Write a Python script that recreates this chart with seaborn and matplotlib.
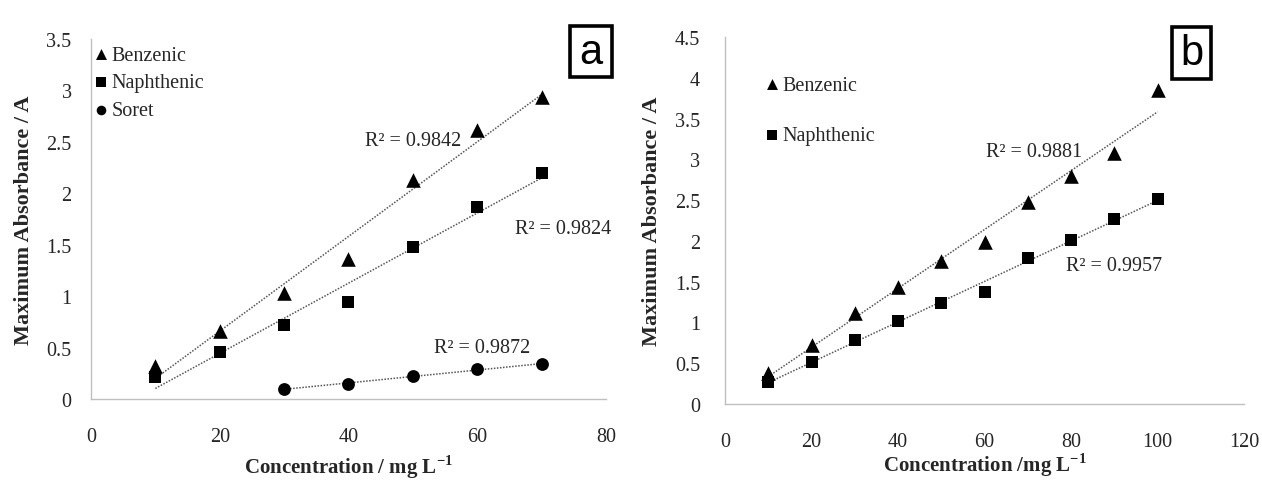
import numpy as np
import pandas as pd
import matplotlib
matplotlib.use("Agg")
import matplotlib.pyplot as plt
from matplotlib.patches import Rectangle
import seaborn as sns

# ---- data: panel (a) ----
conc_a = [10, 20, 30, 40, 50, 60, 70]
benzenic_a = [0.32, 0.66, 1.03, 1.36, 2.13, 2.62, 2.94]
naphthenic_a = [0.21, 0.46, 0.72, 0.94, 1.48, 1.87, 2.20]
conc_soret = [30, 40, 50, 60, 70]
soret_a = [0.10, 0.145, 0.22, 0.29, 0.34]
r2_a = ["0.9842", "0.9824", "0.9872"]

# ---- data: panel (b) ----
conc_b = [10, 20, 30, 40, 50, 60, 70, 80, 90, 100]
benzenic_b = [0.38, 0.72, 1.11, 1.44, 1.75, 1.99, 2.48, 2.79, 3.08, 3.85]
naphthenic_b = [0.27, 0.52, 0.79, 1.02, 1.24, 1.37, 1.79, 2.01, 2.27, 2.51]
r2_b = ["0.9881", "0.9957"]

xticks_a = [0, 20, 40, 60, 80]
yticks_a = [0, 0.5, 1, 1.5, 2, 2.5, 3, 3.5]
xticks_b = [0, 20, 40, 60, 80, 100, 120]
yticks_b = [0, 0.5, 1, 1.5, 2, 2.5, 3, 3.5, 4, 4.5]

sns.set_theme(style="white")
plt.rcParams["font.family"] = ["Liberation Serif", "DejaVu Serif"]

SERIF = "Liberation Serif"
MARKERS = {"Benzenic": "^", "Naphthenic": "s", "Soret": "o"}
SIZES = {"Benzenic": 110, "Naphthenic": 80, "Soret": 85}
SPINE = "#bfbfbf"
TXT = "#262626"
FS = 14.5

df_a = pd.concat([
    pd.DataFrame({"conc": conc_a, "abs": benzenic_a, "series": "Benzenic"}),
    pd.DataFrame({"conc": conc_a, "abs": naphthenic_a, "series": "Naphthenic"}),
    pd.DataFrame({"conc": conc_soret, "abs": soret_a, "series": "Soret"}),
], ignore_index=True)
df_b = pd.concat([
    pd.DataFrame({"conc": conc_b, "abs": benzenic_b, "series": "Benzenic"}),
    pd.DataFrame({"conc": conc_b, "abs": naphthenic_b, "series": "Naphthenic"}),
], ignore_index=True)

fig = plt.figure(figsize=(12.62, 4.81), dpi=100)
ax_a = fig.add_axes([0.0721, 0.1684, 0.408, 0.7484])
ax_b = fig.add_axes([0.5745, 0.158, 0.4113, 0.763])


def draw_panel(ax, df, xlim, ylim, xticks, yticks, ticks_visible):
    # dotted linear trendlines
    for name, sub in df.groupby("series", sort=False):
        sns.regplot(data=sub, x="conc", y="abs", ax=ax, scatter=False, ci=None,
                    truncate=True,
                    line_kws=dict(color="#555555", lw=1.1, ls=(0, (1, 1))))
    # markers
    for name, sub in df.groupby("series", sort=False):
        sns.scatterplot(data=sub, x="conc", y="abs", ax=ax, marker=MARKERS[name],
                        s=SIZES[name], color="black", edgecolor="black",
                        linewidth=0, label=name, zorder=3)
    ax.set_xlim(*xlim)
    ax.set_ylim(*ylim)
    ax.set_xticks(xticks)
    ax.set_yticks(yticks)
    ax.set_xticklabels([f"{t:g}" for t in xticks])
    ax.set_yticklabels([f"{t:g}" for t in yticks])
    for side in ("top", "right"):
        ax.spines[side].set_visible(False)
    for side in ("left", "bottom"):
        ax.spines[side].set_color(SPINE)
        ax.spines[side].set_linewidth(1.0)
    ax.tick_params(axis="both", which="major", labelsize=FS, colors=SPINE,
                   labelcolor=TXT, direction="out",
                   length=5 if ticks_visible else 0, width=1.0)
    ax.tick_params(axis="x", pad=20 if not ticks_visible else 15)
    ax.tick_params(axis="y", pad=14 if not ticks_visible else 13)
    for lab in ax.get_xticklabels() + ax.get_yticklabels():
        lab.set_fontfamily(SERIF)


draw_panel(ax_a, df_a, (0, 80), (0, 3.5), xticks_a, yticks_a, False)
draw_panel(ax_b, df_b, (0, 120), (0, 4.5), xticks_b, yticks_b, True)

# axis titles
for ax, xl, lp in ((ax_a, "Concentration / mg L$^{\\mathregular{-1}}$", 5),
                   (ax_b, "Concentration /mg L$^{\\mathregular{-1}}$", 0)):
    ax.set_xlabel(xl, fontsize=15, fontweight="bold", color=TXT, labelpad=lp)
    ax.set_ylabel("Maximum Absorbance / A", fontsize=16, fontweight="bold",
                  color=TXT, labelpad=9)

# legends
leg_a = ax_a.legend(loc="upper left", bbox_to_anchor=(-0.035, 1.004), frameon=False,
                    fontsize=FS, handletextpad=-0.5, labelspacing=0.42,
                    borderaxespad=0, markerscale=0.75)
leg_b = ax_b.legend(loc="upper left", bbox_to_anchor=(0.037, 0.917), frameon=False,
                    fontsize=FS, handletextpad=-0.5, labelspacing=1.55,
                    borderaxespad=0, markerscale=0.75)
for leg in (leg_a, leg_b):
    for t in leg.get_texts():
        t.set_color(TXT)

# R-squared annotations
r2_kw = dict(fontsize=FS, color=TXT, ha="center", va="center")
ax_a.text(50, 2.51, f"R² = {r2_a[0]}", **r2_kw)
ax_a.text(73.4, 1.66, f"R² = {r2_a[1]}", **r2_kw)
ax_a.text(60.7, 0.505, f"R² = {r2_a[2]}", **r2_kw)
ax_b.text(71.5, 3.09, f"R² = {r2_b[0]}", **r2_kw)
ax_b.text(90.0, 1.70, f"R² = {r2_b[1]}", **r2_kw)

# boxed panel letters
W, H = 1262.0, 481.0
for letter, (x0, y0, x1, y1) in (("a", (570, 27, 612, 78)), ("b", (1172, 28, 1211, 80))):
    fig.add_artist(Rectangle((x0 / W, 1 - y1 / H), (x1 - x0) / W, (y1 - y0) / H,
                             transform=fig.transFigure, fill=False,
                             edgecolor="black", linewidth=2.6))
    fig.text((x0 + x1) / 2 / W, 1 - (y0 + y1) / 2 / H, letter,
             family=["Liberation Sans", "DejaVu Sans"], fontsize=30,
             ha="center", va="center", color="black")

fig.savefig("out.png", dpi=100, facecolor="white")
